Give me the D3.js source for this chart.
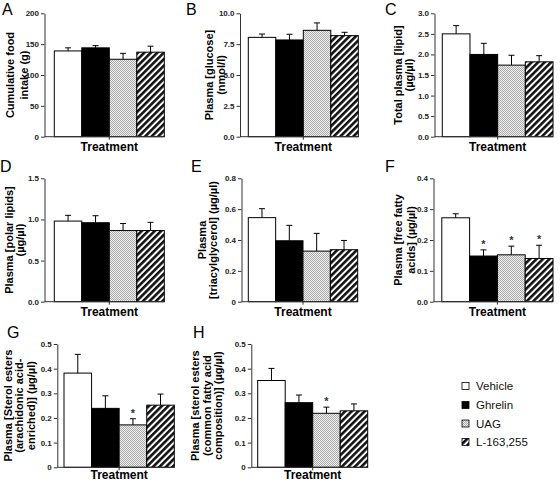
<!DOCTYPE html>
<html>
<head>
<meta charset="utf-8">
<script src="https://cdn.jsdelivr.net/npm/d3@7"></script>
<style>
  html, body { margin: 0; padding: 0; background: #fff; }
  svg { display: block; }
  text { font-family: "Liberation Sans", Arial, Helvetica, sans-serif; }
</style>
</head>
<body>
<svg id="chart" width="560" height="482"></svg>
<script>
// ---- Data ----
const categories = ["Vehicle", "Ghrelin", "UAG", "L-163,255"];

const foodIntake      = [139, 144, 125.5, 137];
const foodIntakeSem   = [5, 3.6, 9.6, 9.7];
const glucose         = [8.05, 7.84, 8.62, 8.19];
const glucoseSem      = [0.27, 0.46, 0.6, 0.27];
const totalLipid      = [2.5, 2.0, 1.74, 1.82];
const totalLipidSem   = [0.2, 0.27, 0.24, 0.15];
const polarLipid      = [0.98, 0.96, 0.865, 0.865];
const polarLipidSem   = [0.07, 0.085, 0.085, 0.1];
const triacylglycerol    = [0.545, 0.395, 0.328, 0.337];
const triacylglycerolSem = [0.058, 0.1, 0.115, 0.06];
const freeFattyAcid    = [0.272, 0.148, 0.152, 0.14];
const freeFattyAcidSem = [0.013, 0.02, 0.028, 0.043];
const sterolArach     = [0.382, 0.239, 0.172, 0.252];
const sterolArachSem  = [0.076, 0.051, 0.025, 0.045];
const sterolCommon    = [0.352, 0.262, 0.219, 0.229];
const sterolCommonSem = [0.049, 0.031, 0.025, 0.028];

const freeFattyAcidSig = [false, true, true, true];
const sterolArachSig   = [false, false, true, false];
const sterolCommonSig  = [false, false, true, false];

const ticksA = [0, 50, 100, 150, 200];
const ticksB = [0, 2.5, 5, 7.5, 10];
const ticksC = [0, 0.5, 1, 1.5, 2, 2.5, 3];
const ticksD = [0, 0.5, 1, 1.5];
const ticksE = [0, 0.2, 0.4, 0.6, 0.8];
const ticksF = [0, 0.1, 0.2, 0.3, 0.4];
const ticksG = [0, 0.1, 0.2, 0.3, 0.4, 0.5];
const ticksH = [0, 0.1, 0.2, 0.3, 0.4, 0.5];

const fills = ["#ffffff", "#000000", "url(#stipple)", "url(#hatch)"];

// ---- Panels (layout) ----
const panels = [
  {letter: "A", lx: 2, ly: 15, ax: 44.5, top: 13.3, bot: 136.7, x0: 54.3, x1: 164.3, tY: 151,
   vals: foodIntake, sem: foodIntakeSem, ticks: ticksA, fmt: d3.format("d"),
   label: ["Cumulative food", "intake (g)"], labX: [10, 23.5], sig: null},
  {letter: "B", lx: 186, ly: 15, ax: 240, top: 13.3, bot: 136.7, x0: 248.3, x1: 358.3, tY: 151,
   vals: glucose, sem: glucoseSem, ticks: ticksB, fmt: d3.format(".1f"),
   label: ["Plasma [glucose]", "(nmol/l)"], labX: [208.5, 220.5], sig: null},
  {letter: "C", lx: 385, ly: 15, ax: 434.5, top: 13.3, bot: 136.7, x0: 442.3, x1: 553, tY: 151,
   vals: totalLipid, sem: totalLipidSem, ticks: ticksC, fmt: d3.format(".1f"),
   label: ["Total plasma [lipid]", "(µg/µl)"], labX: [398, 409], sig: null},
  {letter: "D", lx: 0, ly: 172, ax: 44.5, top: 178.3, bot: 301.7, x0: 54.3, x1: 164.3, tY: 316,
   vals: polarLipid, sem: polarLipidSem, ticks: ticksD, fmt: d3.format(".1f"),
   label: ["Plasma [polar lipids]", "(µg/µl)"], labX: [8.5, 20], sig: null},
  {letter: "E", lx: 191, ly: 172, ax: 241.5, top: 178.3, bot: 301.7, x0: 248.3, x1: 357.7, tY: 316,
   vals: triacylglycerol, sem: triacylglycerolSem, ticks: ticksE, fmt: d => d === 0 ? "0" : d3.format(".1f")(d),
   label: ["Plasma", "[triacylglycerol] (µg/µl)"], labX: [201.5, 213], sig: null},
  {letter: "F", lx: 385, ly: 172, ax: 433.5, top: 178.3, bot: 301.7, x0: 441.8, x1: 553, tY: 316,
   vals: freeFattyAcid, sem: freeFattyAcidSem, ticks: ticksF, fmt: d3.format(".1f"),
   label: ["Plasma [free fatty", "acids] (µg/µl)"], labX: [398.3, 410.5], sig: freeFattyAcidSig},
  {letter: "G", lx: 7, ly: 338, ax: 57.3, top: 344, bot: 467.3, x0: 64, x1: 174.3, tY: 478.5,
   vals: sterolArach, sem: sterolArachSem, ticks: ticksG, fmt: d => d === 0 ? "0" : d3.format(".1f")(d),
   label: ["Plasma [Sterol esters", "(arachidonic acid-", "enriched)] (µg/µl)"], labX: [7.5, 19, 30.5], sig: sterolArachSig},
  {letter: "H", lx: 193, ly: 338, ax: 251.3, top: 344, bot: 467.3, x0: 257.7, x1: 367.7, tY: 478.5,
   vals: sterolCommon, sem: sterolCommonSem, ticks: ticksH, fmt: d => d === 0 ? "0" : d3.format(".1f")(d),
   label: ["Plasma [sterol esters", "(common fatty acid", "composition)] (µg/µl)"], labX: [195, 206.5, 218], sig: sterolCommonSig}
];

const svg = d3.select("#chart");

// patterns
const defs = svg.append("defs");
const hatch = defs.append("pattern").attr("id", "hatch")
  .attr("patternUnits", "userSpaceOnUse").attr("width", 4.6).attr("height", 4.6)
  .attr("patternTransform", "rotate(45)");
hatch.append("rect").attr("width", 4.6).attr("height", 4.6).attr("fill", "#fff");
hatch.append("rect").attr("width", 2.6).attr("height", 4.6).attr("fill", "#111");

const stip = defs.append("pattern").attr("id", "stipple")
  .attr("patternUnits", "userSpaceOnUse").attr("width", 2).attr("height", 2);
stip.append("rect").attr("width", 2).attr("height", 2).attr("fill", "#f0f0f0");
stip.append("rect").attr("width", 1).attr("height", 1).attr("fill", "#aaaaaa");
stip.append("rect").attr("x", 1).attr("y", 1).attr("width", 1).attr("height", 1).attr("fill", "#aaaaaa");

panels.forEach(p => {
  const g = svg.append("g");
  const y = d3.scaleLinear().domain([0, p.ticks[p.ticks.length - 1]]).range([p.bot, p.top]);
  const x = d3.scaleBand().domain(categories).range([p.x0, p.x1]).padding(0);

  // panel letter
  g.append("text").attr("x", p.lx).attr("y", p.ly)
    .attr("font-size", 16).attr("fill", "#000").text(p.letter);

  // bars
  g.selectAll("rect.bar").data(p.vals).join("rect")
    .attr("class", "bar")
    .attr("x", (d, i) => x(categories[i]))
    .attr("y", d => y(d))
    .attr("width", x.bandwidth())
    .attr("height", d => p.bot - y(d))
    .attr("fill", (d, i) => fills[i])
    .attr("stroke", "#000").attr("stroke-width", 1);

  // error bars (upper only)
  p.vals.forEach((v, i) => {
    const cx = x(categories[i]) + x.bandwidth() / 2;
    const yt = y(v + p.sem[i]);
    g.append("line").attr("x1", cx).attr("x2", cx).attr("y1", y(v)).attr("y2", yt)
      .attr("stroke", "#000").attr("stroke-width", 1);
    g.append("line").attr("x1", cx - 3).attr("x2", cx + 3).attr("y1", yt).attr("y2", yt)
      .attr("stroke", "#000").attr("stroke-width", 1);
    if (p.sig && p.sig[i]) {
      g.append("text").attr("x", cx).attr("y", yt - 2)
        .attr("text-anchor", "middle").attr("font-size", 11).attr("font-weight", "bold")
        .attr("fill", "#333").text("*");
    }
  });

  // y axis
  const ya = g.append("g").attr("transform", `translate(${p.ax},0)`)
    .call(d3.axisLeft(y).tickValues(p.ticks).tickFormat(p.fmt).tickSize(3.5).tickSizeOuter(0).tickPadding(2));
  ya.select(".domain").attr("stroke", "#333");
  ya.selectAll(".tick line").attr("stroke", "#333");
  ya.selectAll(".tick text").attr("font-size", 8).attr("font-weight", "bold")
    .attr("fill", "#222").style("font-family", '"Liberation Sans", Arial, sans-serif');

  // x axis baseline
  const xs = d3.scaleLinear().domain([0, 1]).range([p.ax, p.x1]);
  g.append("line").attr("x1", xs(0)).attr("x2", xs(1)).attr("y1", p.bot).attr("y2", p.bot)
    .attr("stroke", "#333").attr("stroke-width", 1);
  const mid = (p.x0 + p.x1) / 2;
  g.append("line").attr("x1", mid).attr("x2", mid).attr("y1", p.bot).attr("y2", p.bot + 3)
    .attr("stroke", "#333").attr("stroke-width", 1);

  // x label
  g.append("text").attr("x", mid).attr("y", p.tY)
    .attr("text-anchor", "middle").attr("font-size", 12).attr("font-weight", "bold")
    .text("Treatment");

  // y label (rotated)
  const cy = (p.top + p.bot) / 2;
  p.label.forEach((line, k) => {
    g.append("text")
      .attr("transform", `translate(${p.labX[k] + 4},${cy}) rotate(-90)`)
      .attr("text-anchor", "middle").attr("font-size", 11).attr("font-weight", "bold")
      .text(line);
  });
});

// legend
const legend = svg.append("g");
categories.forEach((c, i) => {
  const ly = [386, 405, 423.5, 442][i];
  legend.append("rect").attr("x", 462).attr("y", ly - 3.5).attr("width", 7).attr("height", 7)
    .attr("fill", fills[i]).attr("stroke", "#000").attr("stroke-width", 0.8);
  legend.append("text").attr("x", 476).attr("y", ly + 4)
    .attr("font-size", 11.5).attr("fill", "#111").text(c);
});
</script>
</body>
</html>
